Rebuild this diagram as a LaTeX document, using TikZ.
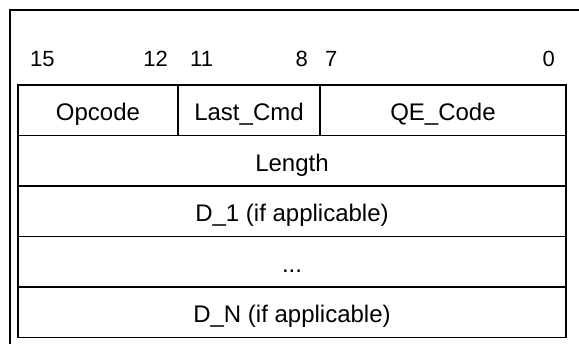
\documentclass[tikz,border=0pt]{standalone}
\usepackage{fontspec}
\setmainfont{Liberation Sans}
\usetikzlibrary{positioning}
\newcommand{\rowh}{50.5pt}
\newcommand{\fieldfont}{\fontsize{24}{28}\selectfont}
\newcommand{\bitfont}{\fontsize{22}{26}\selectfont}
\tikzset{
  field/.style = {draw, line width=1.5pt, outer sep=0pt, inner sep=0pt,
    minimum height=\rowh, text height=22pt, text depth=1pt, font=\fieldfont},
  bitno/.style = {inner sep=0pt, font=\bitfont}
}

\begin{document}
\begin{tikzpicture}[x=1pt, y=1pt]
  \useasboundingbox (0,0) rectangle (579,344);
  \clip (0,0) rectangle (579,344);
  % outer frame, runs off the page on the right and at the bottom
  \draw[line width=2pt] (9.5,334) rectangle (600,-20);
  % first word: three fields
  \node[field, minimum width=160pt, anchor=north west] (opcode) at (18,259) {Opcode};
  \node[field, minimum width=142pt, right=0pt of opcode] (lastcmd) {Last\_Cmd};
  \node[field, minimum width=246pt, right=0pt of lastcmd] (qecode) {QE\_Code};
  % full width words
  \node[field, minimum width=548pt, below right=0pt and 0pt of opcode.south west] (length) {Length};
  \node[field, minimum width=548pt, below=0pt of length] (d1) {D\_1 (if applicable)};
  \node[field, minimum width=548pt, below=0pt of d1] (dots) {...};
  \node[field, minimum width=548pt, below=0pt of dots] (dn) {D\_N (if applicable)};
  % bit numbers
  \node[bitno, anchor=base west] (b15) at (30,277) {15};
  \node[bitno, anchor=base east] (b12) at (168,277) {12};
  \node[bitno, anchor=base west] (b11) at (190,277) {11};
  \node[bitno, anchor=base east] (b8) at (308,277) {8};
  \node[bitno, anchor=base west] (b7) at (325,277) {7};
  \node[bitno, anchor=base east] (b0) at (555,277) {0};
\end{tikzpicture}
\end{document}
